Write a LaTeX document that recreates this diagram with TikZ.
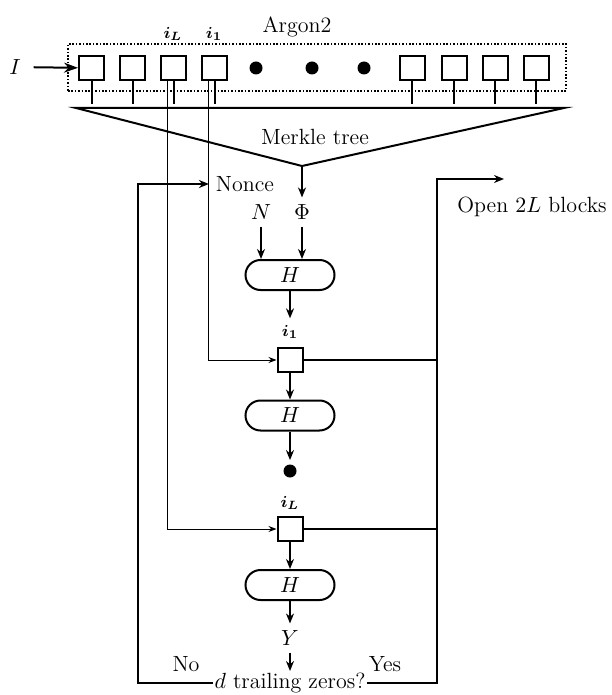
\documentclass[tikz,border=0pt]{standalone}
\usepackage{amsmath,amssymb}
\usetikzlibrary{arrows.meta,positioning}

\begin{document}
\begin{tikzpicture}[
  x=0.5pt, y=-0.5pt,
  font=\fontsize{11}{13}\selectfont,
  blk/.style={draw, line width=1pt, minimum width=12.5pt, minimum height=12pt, inner sep=0pt},
  hash/.style={draw, line width=1pt, rounded corners=7.5pt, minimum width=44.5pt,
               minimum height=15pt, inner sep=0pt},
  bullet/.style={circle, fill, inner sep=0pt, minimum size=6.5pt},
  idx/.style={font=\footnotesize},
  wire/.style={line width=1pt},
  arr/.style={-{Stealth[length=5pt,width=4pt]}, line width=0.9pt},
  tap/.style={-{Stealth[length=4pt,width=3pt]}, line width=0.5pt}
]
\useasboundingbox (0,0) rectangle (611,695);
% Argon2 memory row
\node[draw, line width=0.8pt, dash pattern=on 0.8pt off 0.9pt, minimum width=249pt,
      minimum height=23.5pt, inner sep=0pt] (argon) at (317,67.5) {};
\node (argonlbl) at (297,27) {Argon2};
\foreach \x [count=\i] in {91.5,132.5,173.5,214.5,412,454,495,536}
  \node[blk] (b\i) at (\x,68) {};
\foreach \x [count=\i] in {256,312,364}
  \node[bullet] (d\i) at (\x,68) {};
\foreach \i in {1,...,8}
  \draw[wire] (b\i.south) -- ++(0,23);
\node[idx] (iL) at (173,34) {$\boldsymbol{i_L}$};
\node[idx] (i1) at (214,34) {$\boldsymbol{i_1}$};
\node (I) at (15,67) {$I$};
\draw[-{Stealth[length=7pt,width=5pt]}, line width=1pt, shorten <=3pt] (I) -- (b1);
% Merkle tree
\coordinate (tl) at (76,108);
\coordinate (tr) at (564,108);
\coordinate (apex) at (302,166);
\draw[wire] (tl) -- (tr) -- (apex) -- cycle;
\node (merkle) at (315,137) {Merkle tree};
% hash chain
\node (nonce) at (245,184) {Nonce};
\node (N) at (261,212) {$N$};
\node (phi) at (302,212) {$\Phi$};
\draw[arr] (apex) -- (phi);
\node[hash] (h1) at (290,275) {$H$};
\draw[arr] (N) -- (N |- h1.north);
\draw[arr] (phi) -- (phi |- h1.north);
\node[idx] (c1lbl) at (290,332) {$\boldsymbol{i_1}$};
\node[blk] (c1) at (290,360) {};
\draw[arr] (h1) -- (c1lbl);
\node[hash] (h2) at (290,415.5) {$H$};
\draw[arr] (c1) -- (h2);
\node[bullet] (mid) at (290,471) {};
\draw[arr, shorten >=2pt] (h2) -- (mid);
\node[idx] (cLlbl) at (290,503) {$\boldsymbol{i_L}$};
\node[blk] (cL) at (290,529) {};
\node[hash] (h3) at (290,585) {$H$};
\draw[arr] (cL) -- (h3);
\node (Y) at (290,638) {$Y$};
\draw[arr] (h3) -- (Y);
\node[fill=white, inner sep=0.8pt] (test) at (290,683) {$d$ trailing zeros?};
\draw[arr] (Y) -- (test);
% opened blocks feed the chain
\draw[tap] ([xshift=-3.25pt]b4.south) |- (c1.west);
\draw[tap] ([xshift=-3pt]b3.south) |- (cL.west);
% loops
\coordinate (loopl) at (138,184);
\coordinate (loopr) at (437,179);
\coordinate (openend) at (504,179);
\draw[arr] (test.west) -| (loopl) -- (nonce.west);
\draw[arr] (test.east) -| (loopr) -- (openend);
\draw[wire] (c1.east) -- (c1.east -| loopr);
\draw[wire] (cL.east) -- (cL.east -| loopr);
\node (open) at (532,207) {Open $2L$ blocks};
\node (no) at (186,664) {No};
\node (yes) at (385,664) {Yes};
\end{tikzpicture}
\end{document}
